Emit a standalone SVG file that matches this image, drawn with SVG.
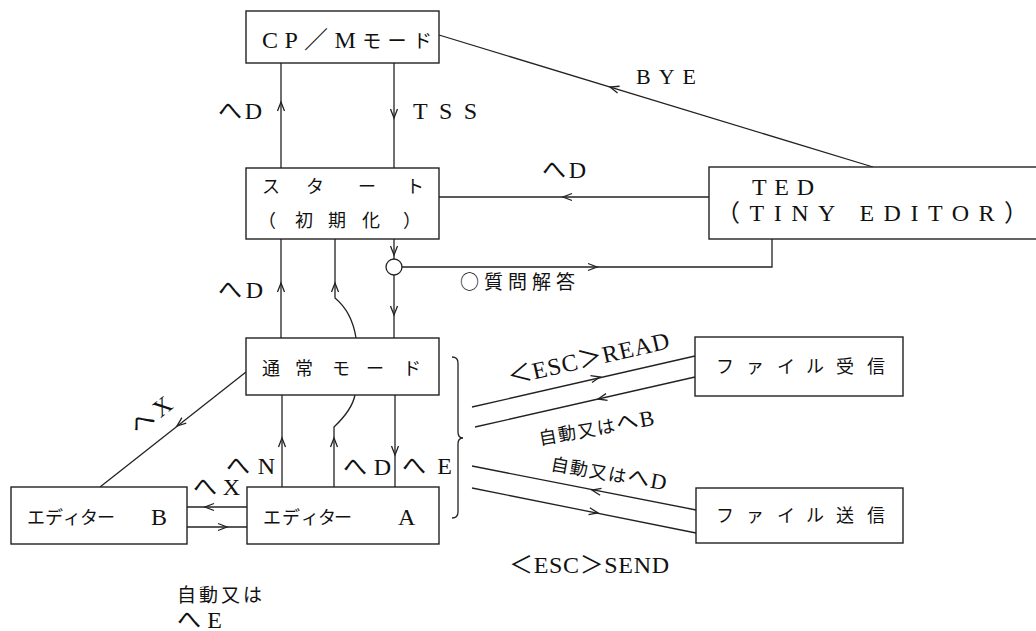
<svg xmlns="http://www.w3.org/2000/svg" xmlns:xlink="http://www.w3.org/1999/xlink" width="1036" height="631" viewBox="0 0 1036 631">
<style>
.box{fill:#fff;stroke:#222;stroke-width:1.4}
.ln{fill:none;stroke:#222;stroke-width:1.3}
.t{font-family:"Liberation Serif","Noto Sans CJK JP",serif;font-size:24px;fill:#111}
.j{font-family:"Noto Sans CJK JP","Liberation Sans",sans-serif;font-size:18px;fill:#111}
.k{font-family:"Noto Sans CJK JP",sans-serif;font-size:19px}
</style>
<defs>
<path id="ah" d="M-9,-3.5 L0,0 L-9,3.5" fill="none" stroke="#222" stroke-width="1.3"/>
</defs>
<rect width="1036" height="631" fill="#fff"/>

<g id="connectors">
<line class="ln" x1="281" y1="63" x2="281" y2="168"/>
<use xlink:href="#ah" transform="translate(281,102) rotate(-90)"/>
<line class="ln" x1="394" y1="63" x2="394" y2="168"/>
<use xlink:href="#ah" transform="translate(394,118) rotate(90)"/>
<line class="ln" x1="439" y1="35" x2="873" y2="167"/>
<use xlink:href="#ah" transform="translate(610,87) rotate(196.9)"/>
<line class="ln" x1="709" y1="197" x2="439" y2="197"/>
<use xlink:href="#ah" transform="translate(563,197) rotate(180)"/>
<path class="ln" d="M772,239 V267 H402"/>
<use xlink:href="#ah" transform="translate(597,267) rotate(0)"/>
<circle class="ln" cx="394" cy="267" r="8"/>
<line class="ln" x1="394" y1="239" x2="394" y2="259"/>
<use xlink:href="#ah" transform="translate(394,255) rotate(90)"/>
<line class="ln" x1="394" y1="275" x2="394" y2="338"/>
<use xlink:href="#ah" transform="translate(394,315) rotate(90)"/>
<line class="ln" x1="281" y1="239" x2="281" y2="338"/>
<use xlink:href="#ah" transform="translate(281,283) rotate(-90)"/>
<path class="ln" d="M335,239 V298 Q352,312 356,338"/>
<use xlink:href="#ah" transform="translate(335,283) rotate(-90)"/>
<line class="ln" x1="282" y1="395" x2="282" y2="487"/>
<use xlink:href="#ah" transform="translate(282,438) rotate(-90)"/>
<path class="ln" d="M334,487 V427 Q352,410 355,395"/>
<use xlink:href="#ah" transform="translate(334,438) rotate(-90)"/>
<line class="ln" x1="395" y1="395" x2="395" y2="487"/>
<use xlink:href="#ah" transform="translate(395,455) rotate(90)"/>
<line class="ln" x1="246" y1="372" x2="100" y2="487"/>
<use xlink:href="#ah" transform="translate(177,426) rotate(141.8)"/>
<line class="ln" x1="247" y1="507" x2="187" y2="507"/>
<use xlink:href="#ah" transform="translate(205,507) rotate(180)"/>
<line class="ln" x1="187" y1="527" x2="247" y2="527"/>
<use xlink:href="#ah" transform="translate(227,527) rotate(0)"/>
<path class="ln" d="M452,357 Q458,357 458,363 V432 Q458,438 463,438 Q458,438 458,444 V512 Q458,518 452,518"/>
<line class="ln" x1="472" y1="407" x2="695" y2="356"/>
<use xlink:href="#ah" transform="translate(600,377) rotate(-12.9)"/>
<line class="ln" x1="695" y1="377" x2="475" y2="427"/>
<use xlink:href="#ah" transform="translate(598,399) rotate(167.2)"/>
<line class="ln" x1="472" y1="466" x2="696" y2="510"/>
<use xlink:href="#ah" transform="translate(592,490) rotate(191.2)"/>
<line class="ln" x1="472" y1="488" x2="696" y2="533"/>
<use xlink:href="#ah" transform="translate(598,513) rotate(11.4)"/>
</g>

<g id="cpm">
<rect class="box" x="246" y="11" width="193" height="52"/>
<text class="t" x="262" y="48" textLength="170" lengthAdjust="spacing">CP／M<tspan class="k">モード</tspan></text>
</g>
<g id="start">
<rect class="box" x="246" y="168" width="193" height="71"/>
<text class="j" x="262 306 358 406" y="193">スタート</text>
<text class="j" x="258 295 328 362 403" y="227">（初期化）</text>
</g>
<g id="ted">
<rect class="box" x="709" y="167" width="340" height="72"/>
<text class="t" x="752" y="195" textLength="62" lengthAdjust="spacing">TED</text>
<text class="t" x="716" y="221" textLength="312" lengthAdjust="spacing">（TINY EDITOR）</text>
</g>
<g id="normal">
<rect class="box" x="246" y="338" width="193" height="57"/>
<text class="j" x="262 295 332 366 403" y="375">通常モード</text>
</g>
<g id="editorB">
<rect class="box" x="11" y="487" width="176" height="57"/>
<text class="j" x="27 45 63 80 97" y="524">エディター</text>
<text class="t" x="151" y="525">B</text>
</g>
<g id="editorA">
<rect class="box" x="247" y="487" width="192" height="57"/>
<text class="j" x="263 282 301 318 334" y="524">エディター</text>
<text class="t" x="398" y="525">A</text>
</g>
<g id="recv">
<rect class="box" x="695" y="337" width="208" height="59"/>
<text class="j" x="716 746 777 806 836 867" y="373">ファイル受信</text>
</g>
<g id="send">
<rect class="box" x="696" y="488" width="207" height="55"/>
<text class="j" x="716 746 777 806 836 867" y="522">ファイル送信</text>
</g>

<g id="labels">
<text class="t" x="218" y="119" textLength="44" lengthAdjust="spacing">へD</text>
<text class="t" x="413" y="119" textLength="64" lengthAdjust="spacing">TSS</text>
<text class="t" x="636" y="84" textLength="60" lengthAdjust="spacing" style="font-size:22px">BYE</text>
<text class="t" x="542" y="178" textLength="44" lengthAdjust="spacing">へD</text>
<text class="t" x="218" y="298" textLength="45" lengthAdjust="spacing">へD</text>
<text class="j" x="460" y="289" textLength="115" lengthAdjust="spacing" style="font-size:19px">○質問解答</text>
<text class="t" transform="translate(138,436) rotate(-38)" textLength="46" lengthAdjust="spacing">へX</text>
<text class="t" x="226" y="474" textLength="49" lengthAdjust="spacing">へN</text>
<text class="t" x="343" y="475" textLength="48" lengthAdjust="spacing">へD</text>
<text class="t" x="402" y="474" textLength="50" lengthAdjust="spacing">へE</text>
<text class="t" x="193" y="495" textLength="47" lengthAdjust="spacing">へX</text>
<text class="j" x="177" y="602" textLength="85" lengthAdjust="spacing" style="font-size:19px">自動又は</text>
<text class="t" x="177" y="628" textLength="45" lengthAdjust="spacing">へE</text>
<text class="t" transform="translate(510,385) rotate(-13)" textLength="165" lengthAdjust="spacing">＜ESC＞READ</text>
<text class="j" transform="translate(540,445) rotate(-10)" textLength="117" lengthAdjust="spacing">自動又は<tspan class="t" style="font-size:22px">へB</tspan></text>
<text class="j" transform="translate(550,470) rotate(10)" textLength="117" lengthAdjust="spacing">自動又は<tspan class="t" style="font-size:22px">へD</tspan></text>
<text class="t" x="509" y="573" textLength="160" lengthAdjust="spacing">＜ESC＞SEND</text>
</g>
</svg>
